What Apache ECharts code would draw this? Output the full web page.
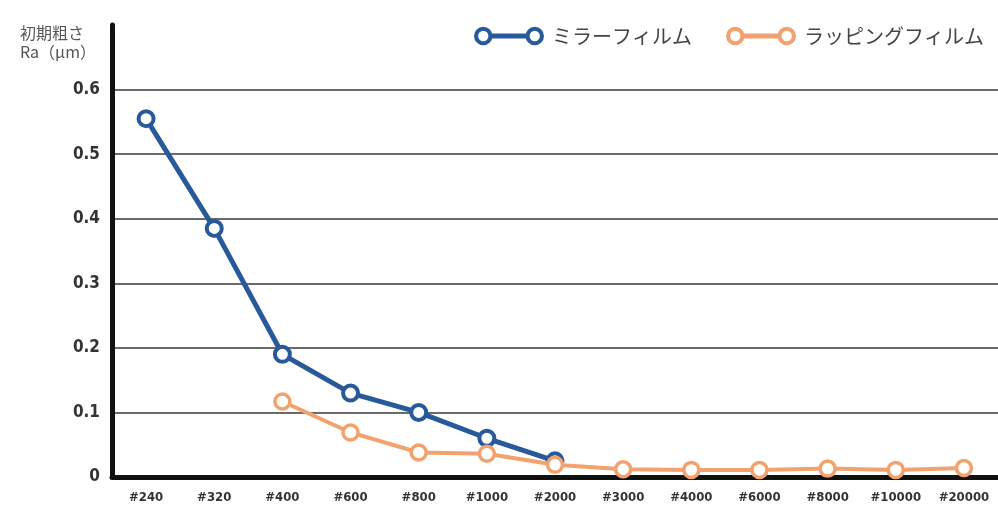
<!DOCTYPE html>
<html><head><meta charset="utf-8">
<script src="https://cdn.jsdelivr.net/npm/echarts@6/dist/echarts.min.js"></script>
<style>html,body{margin:0;padding:0;background:#fff}#c{width:998px;height:515px}</style>
</head><body><div id="c"></div>
<script>
const categories = ['#240','#320','#400','#600','#800','#1000','#2000','#3000','#4000','#6000','#8000','#10000','#20000'];
const mirrorFilm = [0.555, 0.385, 0.19, 0.13, 0.10, 0.06, 0.025, null, null, null, null, null, null];
const lappingFilm = [null, null, 0.117, 0.069, 0.038, 0.036, 0.019, 0.012, 0.011, 0.011, 0.013, 0.011, 0.014];
const seriesNames = ['ミラーフィルム', 'ラッピングフィルム'];
const yTitle = '初期粗さ\nRa（μm）';

const blue = '#28599b', orange = '#f2a26e';
const narrow = "'Liberation Sans Narrow','DejaVu Sans Condensed','Roboto Condensed','Roboto',sans-serif";
const iconPath = 'path://M1,10 A9,9 0 1,1 19,10 A9,9 0 1,1 1,10 Z M5,10 A5,5 0 1,0 15,10 A5,5 0 1,0 5,10 Z M18,7.5 L52,7.5 L52,12.5 L18,12.5 Z M51,10 A9,9 0 1,1 69,10 A9,9 0 1,1 51,10 Z M55,10 A5,5 0 1,0 65,10 A5,5 0 1,0 55,10 Z';

const chart = echarts.init(document.getElementById('c'));
chart.setOption({
  animation: false,
  backgroundColor: '#fff',
  title: {
    text: yTitle, left: 15, top: 18,
    textStyle: { fontSize: 16, fontWeight: 'normal', color: '#555', lineHeight: 19, fontFamily: "'Noto Sans CJK JP',sans-serif" }
  },
  legend: {
    right: 9, top: 21, itemWidth: 70, itemHeight: 20, itemGap: 34,
    icon: iconPath,
    textStyle: { fontSize: 20, color: '#444', fontFamily: "'Noto Sans CJK JP',sans-serif", padding: [0, 0, 0, 3] },
    data: [
      { name: seriesNames[0], itemStyle: { color: blue, borderWidth: 0 } },
      { name: seriesNames[1], itemStyle: { color: orange, borderWidth: 0 } }
    ]
  },
  grid: { left: 112, right: 0, top: 25, bottom: 38 },
  xAxis: {
    type: 'category', data: categories, boundaryGap: true,
    axisLine: { lineStyle: { color: '#111', width: 5 } },
    axisTick: { show: false },
    axisLabel: { interval: 0, margin: 14, fontSize: 13, color: '#333', fontFamily: narrow, fontWeight: 'bold' }
  },
  yAxis: {
    type: 'value', min: 0, max: 0.7, interval: 0.1,
    axisLine: { show: true, lineStyle: { color: '#111', width: 5 } },
    axisTick: { show: false },
    axisLabel: { showMaxLabel: false, margin: 12, fontSize: 17, color: '#333', fontFamily: narrow, fontWeight: 'bold',
      formatter: v => (v === 0 ? '0' : v.toFixed(1)) },
    splitLine: { showMaxLine: false, lineStyle: { color: '#3a3a3a', width: 1.6 } }
  },
  series: [
    { name: seriesNames[0], type: 'line', data: mirrorFilm, color: blue,
      symbol: 'circle', symbolSize: 15,
      lineStyle: { width: 5, color: blue },
      itemStyle: { color: '#fff', borderColor: blue, borderWidth: 4 }, z: 3 },
    { name: seriesNames[1], type: 'line', data: lappingFilm, color: orange,
      symbol: 'circle', symbolSize: 15,
      lineStyle: { width: 4, color: orange },
      itemStyle: { color: '#fff', borderColor: orange, borderWidth: 3.5 }, z: 4 }
  ]
});
</script></body></html>
